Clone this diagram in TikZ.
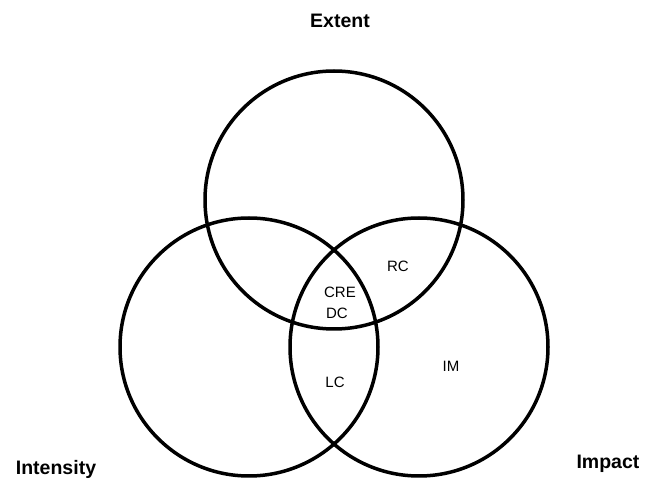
\documentclass[tikz,border=0pt]{standalone}
\usepackage{fontspec}
\setmainfont{Liberation Sans}
\usepackage{tikz}

\begin{document}
\begin{tikzpicture}[x=1pt,y=-1pt,
    settitle/.style={font=\bfseries\fontsize{19.5}{22}\selectfont},
    setpart/.style={font=\fontsize{15}{17}\selectfont}]
\useasboundingbox (0,0) rectangle (649,481);
% Circles
\foreach \cx/\cy in {334/200,249/347,419/347} {
    \draw[line width=3.5pt] (\cx,\cy) circle[radius=129pt];
}

% Set names
\node[settitle] (extent) at (340,21) {Extent};
\node[settitle] (intensity) at (56,469) {Intensity};
\node[settitle] (impact) at (608,464) {Impact};

% Overlaps
\node[setpart] (rc) at (398,266) {RC};
\node[setpart] (cre) at (340,292) {CRE};
\node[setpart] (dc) at (337,313) {DC};
\node[setpart] (lc) at (335,382) {LC};
\node[setpart] (im) at (451,366) {IM};
\end{tikzpicture}
\end{document}
